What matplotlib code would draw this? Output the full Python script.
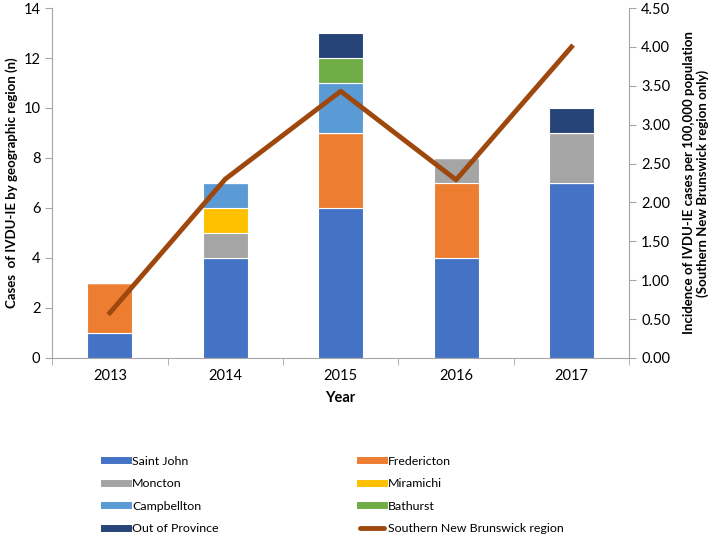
import matplotlib
matplotlib.use("Agg")
import matplotlib.pyplot as plt
import numpy as np
from matplotlib.lines import Line2D

plt.rcParams['font.family'] = ['Lato', 'DejaVu Sans']

years = ["2013", "2014", "2015", "2016", "2017"]
saint_john = [1, 4, 6, 4, 7]
fredericton = [2, 0, 3, 3, 0]
moncton = [0, 1, 0, 1, 2]
miramichi = [0, 1, 0, 0, 0]
campbellton = [0, 1, 2, 0, 0]
bathurst = [0, 0, 1, 0, 0]
out_of_province = [0, 0, 1, 0, 1]
southern_nb = [0.58, 2.30, 3.43, 2.29, 4.00]

series = [
    ("Saint John", saint_john, "#4472C4"),
    ("Fredericton", fredericton, "#ED7D31"),
    ("Moncton", moncton, "#A5A5A5"),
    ("Miramichi", miramichi, "#FFC000"),
    ("Campbellton", campbellton, "#5B9BD5"),
    ("Bathurst", bathurst, "#70AD47"),
    ("Out of Province", out_of_province, "#264478"),
]
line_color = "#9E480E"

fig = plt.figure(figsize=(7.15, 5.35), dpi=100)
ax = fig.add_axes([0.073, 0.331, 0.807, 0.654])
x = np.arange(len(years))
bottom = np.zeros(len(years))
for name, vals, col in series:
    v = np.array(vals, dtype=float)
    ax.bar(x, v, bottom=bottom, width=0.39, color=col, edgecolor="white", linewidth=0.8, zorder=2)
    bottom += v

ax.set_xlim(-0.5, len(years) - 0.5)
ax.set_ylim(0, 14)
ax.set_yticks(range(0, 15, 2))
ax.set_xticks(x)
ax.set_xticklabels(years)
ax.set_xticks(np.arange(-0.5, len(years), 1.0), minor=True)
ax.tick_params(axis='x', which='major', length=0, pad=8, labelsize=10.5)
ax.tick_params(axis='x', which='minor', length=5, color="#A6A6A6")
ax.tick_params(axis='y', length=5, color="#A6A6A6", labelsize=10.5)
for s in ["top", "right"]:
    ax.spines[s].set_visible(False)
for s in ["left", "bottom"]:
    ax.spines[s].set_color("#A6A6A6")
ax.set_xlabel("Year", fontweight="bold", fontsize=10.5, labelpad=6)
ax.set_ylabel("Cases  of IVDU-IE by geographic region (n)", fontweight="bold", fontsize=9.5, labelpad=4)

ax2 = ax.twinx()
ax2.plot(x, southern_nb, color=line_color, linewidth=3.5, zorder=3)
ax2.set_ylim(0, 4.5)
ax2.set_yticks(np.arange(0, 4.51, 0.5))
ax2.set_yticklabels([f"{t:.2f}" for t in np.arange(0, 4.51, 0.5)])
ax2.tick_params(axis='y', length=5, color="#A6A6A6", labelsize=10.5)
for s in ["top", "left", "bottom"]:
    ax2.spines[s].set_visible(False)
ax2.spines["right"].set_color("#A6A6A6")
ax2.set_ylabel("Incidence of IVDU-IE cases per 100,000 population\n(Southern New Brunswick region only)",
               fontweight="bold", fontsize=9.5, labelpad=9)

colors = {name: col for name, _, col in series}
col1_names = ["Saint John", "Moncton", "Campbellton", "Out of Province"]
col2_names = ["Fredericton", "Miramichi", "Bathurst"]

h1 = [Line2D([0], [0], color=colors[n], linewidth=5) for n in col1_names]
h2 = [Line2D([0], [0], color=colors[n], linewidth=5) for n in col2_names]
h2.append(Line2D([0], [0], color=line_color, linewidth=3.5, solid_capstyle="round"))
l2 = col2_names + ["Southern New Brunswick region"]

common = dict(loc="upper left", frameon=False, fontsize=8.9, handlelength=1.9,
              handletextpad=0.35, labelspacing=0.92, borderaxespad=0, borderpad=0)
leg1 = fig.legend(h1, col1_names, bbox_to_anchor=(0.146, 0.148), **common)
leg2 = fig.legend(h2, l2, bbox_to_anchor=(0.504, 0.148), **common)

fig.savefig("out.png", dpi=100)
